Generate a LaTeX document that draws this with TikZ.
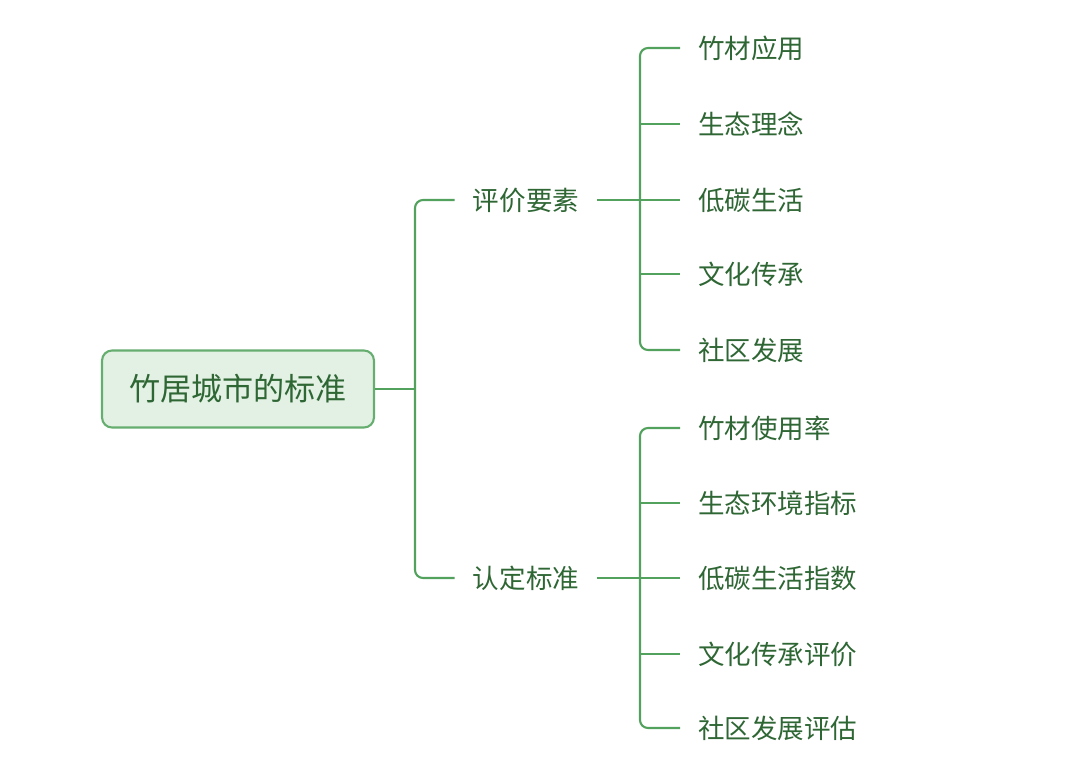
\documentclass[tikz,border=0pt]{standalone}
\usepackage{fontspec}
\newfontfamily\cjk{Noto Sans CJK SC}
\usepackage{xcolor}
\usetikzlibrary{positioning, calc}

\definecolor{linkgreen}{RGB}{82,162,94}
\definecolor{rootfill}{RGB}{227,241,228}
\definecolor{rootdraw}{RGB}{102,174,112}
\definecolor{textgreen}{RGB}{46,102,52}

\begin{document}
\begin{tikzpicture}[
    x=0.02cm, y=-0.02cm,
    rootbox/.style={rectangle, draw=rootdraw, fill=rootfill, line width=1.2pt, rounded corners=0.2cm, minimum width=5.44cm, minimum height=1.54cm, font=\cjk\fontsize{17.7}{20}\selectfont, text=textgreen},
    branch/.style={inner xsep=0.36cm, inner ysep=2pt, font=\cjk\fontsize{15.1}{18}\selectfont, text=textgreen},
    leaf/.style={inner xsep=0.36cm, inner ysep=2pt, anchor=west, font=\cjk\fontsize{15.1}{18}\selectfont, text=textgreen},
    link/.style={linkgreen, line width=1.2pt, rounded corners=0.16cm}
]
\useasboundingbox (0,0) rectangle (1080,762);

% Root
\node[rootbox] (root) at (238,389) {竹居城市的标准};

% Two main branches
\node[branch] (ping) at (526,200) {评价要素};
\node[branch] (rend) at (526,578) {认定标准};

% Junctions
\coordinate (j0) at (415,389);
\coordinate (j1) at (640,200);
\coordinate (j2) at (640,578);

% Leaves of the first branch
\foreach \txt/\yy [count=\i] in {竹材应用/48, 生态理念/124, 低碳生活/200, 文化传承/274, 社区发展/350}
    \node[leaf] (a\i) at (680,\yy) {\txt};

% Leaves of the second branch
\foreach \txt/\yy [count=\i] in {竹材使用率/428, 生态环境指标/503, 低碳生活指数/578, 文化传承评价/654, 社区发展评估/728}
    \node[leaf] (c\i) at (680,\yy) {\txt};

% Root to branches
\draw[link] (root.east) -- (j0);
\draw[link] (ping.west) -| (j0) |- (rend.west);

% Branches to leaves
\draw[link] (ping.east) -- (j1);
\draw[link] (a1.west) -| (j1) |- (a5.west);
\foreach \i in {2,3,4}
    \draw[link] (j1 |- a\i.west) -- (a\i.west);

\draw[link] (rend.east) -- (j2);
\draw[link] (c1.west) -| (j2) |- (c5.west);
\foreach \i in {2,3,4}
    \draw[link] (j2 |- c\i.west) -- (c\i.west);

\end{tikzpicture}
\end{document}
